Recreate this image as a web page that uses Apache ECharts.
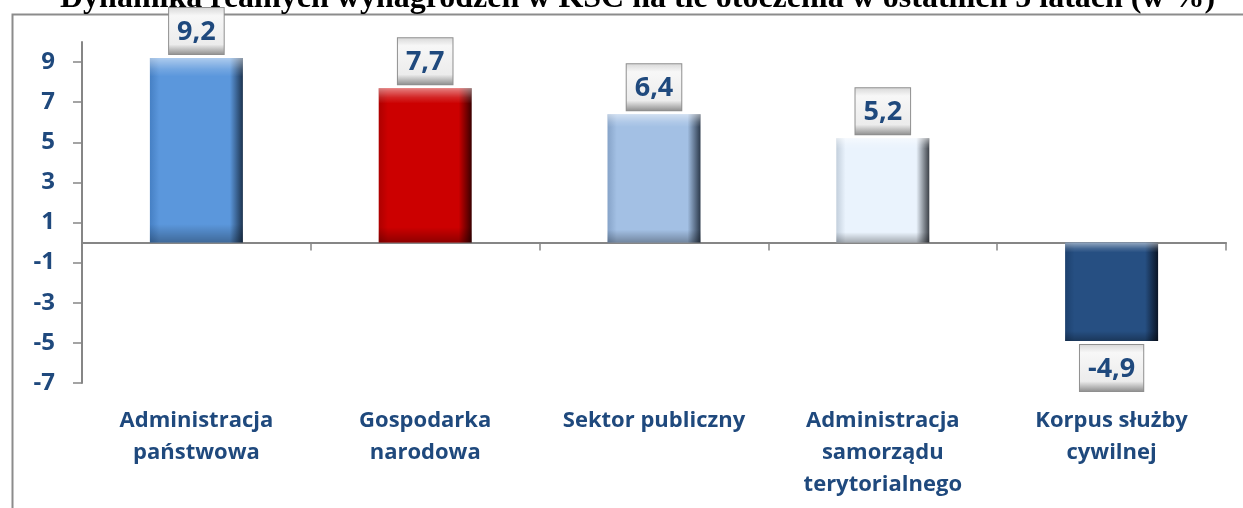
<!DOCTYPE html>
<html>
<head>
<meta charset="utf-8">
<script src="https://cdn.jsdelivr.net/npm/echarts@6/dist/echarts.min.js"></script>
<style>
  html, body { margin: 0; padding: 0; background: #fff; }
  #chart { width: 1243px; height: 508px; }
</style>
</head>
<body>
<div id="chart"></div>
<script>
  const categories = [
    'Administracja\npaństwowa',
    'Gospodarka\nnarodowa',
    'Sektor publiczny',
    'Administracja\nsamorządu\nterytorialnego',
    'Korpus służby\ncywilnej'
  ]
  const values = [9.2, 7.7, 6.4, 5.2, -4.9]
  const yTicks = [-7, -5, -3, -1, 1, 3, 5, 7, 9]
  const yMin = -7
  const yMax = 10

  // left edge, face, right edge of every bar
  const palette = [
    ['#4680c4', '#5b97dc', '#1d3450'],
    ['#ad0000', '#cc0000', '#3a0000'],
    ['#86a3c8', '#a3c0e4', '#2c3a4c'],
    ['#c3cfdc', '#eaf3fd', '#3c4148'],
    ['#1d416e', '#264f82', '#0b1526']
  ]

  const textBlue = '#1f497d'
  const axisGray = '#868686'

  function bevel(c) {
    return {
      type: 'linear', x: 0, y: 0, x2: 1, y2: 0,
      colorStops: [
        { offset: 0, color: c[0] },
        { offset: 0.1, color: c[1] },
        { offset: 0.86, color: c[1] },
        { offset: 1, color: c[2] }
      ]
    }
  }

  const fmt = v => v.toFixed(1).replace('.', ',')

  const chart = echarts.init(document.getElementById('chart'))

  chart.setOption({
    backgroundColor: '#fff',
    animation: false,
    title: {
      text: 'Dynamika realnych wynagrodzeń w KSC na tle otoczenia w ostatnich 5 latach (w %)',
      left: 55,
      top: -22,
      textStyle: {
        fontFamily: 'Liberation Serif',
        fontWeight: 'bold',
        fontSize: 32,
        color: '#000'
      }
    },
    graphic: [{
      type: 'rect',
      left: 10,
      top: 12,
      z: -10,
      shape: { width: 1300, height: 600 },
      style: { fill: 'none', stroke: '#8c8c8c', lineWidth: 2 }
    }],
    grid: {
      left: 82,
      right: 17,
      top: 42,
      bottom: 125
    },
    xAxis: [
      {
        type: 'category',
        data: categories,
        position: 'bottom',
        axisLine: { onZero: true, lineStyle: { color: axisGray, width: 2 } },
        axisTick: { show: true, length: 8, lineStyle: { color: axisGray, width: 1.5 } },
        axisLabel: { show: false },
        splitLine: { show: false }
      },
      {
        type: 'category',
        data: categories,
        position: 'bottom',
        axisLine: { show: false, onZero: false },
        axisTick: { show: false },
        axisLabel: {
          interval: 0,
          margin: 22,
          color: textBlue,
          fontFamily: 'Open Sans',
          fontWeight: 'bold',
          fontSize: 22,
          lineHeight: 32
        },
        splitLine: { show: false }
      }
    ],
    yAxis: {
      type: 'value',
      min: yMin,
      max: yMax,
      axisLine: { show: true, lineStyle: { color: axisGray, width: 2 } },
      axisTick: {
        show: true,
        length: 9,
        customValues: yTicks,
        lineStyle: { color: axisGray, width: 1.5 }
      },
      axisLabel: {
        customValues: yTicks,
        margin: 27,
        color: textBlue,
        fontFamily: 'Open Sans',
        fontWeight: 'bold',
        fontSize: 24
      },
      splitLine: { show: false }
    },
    series: [
      {
        type: 'bar',
        xAxisIndex: 0,
        barWidth: 93,
        barGap: '-100%',
        data: values.map((v, i) => ({
          value: v,
          itemStyle: { color: bevel(palette[i]) },
          label: { position: v < 0 ? 'bottom' : 'top' }
        })),
        label: {
          show: true,
          distance: 4,
          formatter: p => fmt(p.value),
          color: textBlue,
          fontFamily: 'Open Sans',
          fontWeight: 'bold',
          fontSize: 27,
          lineHeight: 30,
          padding: [9, 8, 7, 8],
          borderColor: '#8f8f8f',
          borderWidth: 1,
          backgroundColor: {
            type: 'linear', x: 0, y: 0, x2: 0, y2: 1,
            colorStops: [
              { offset: 0, color: '#d6d6d6' },
              { offset: 0.18, color: '#f7f7f7' },
              { offset: 0.78, color: '#ececec' },
              { offset: 1, color: '#8c8c8c' }
            ]
          }
        },
        z: 2
      },
      {
        // top highlight and bottom shade of the bevel
        type: 'bar',
        xAxisIndex: 0,
        barWidth: 93,
        barGap: '-100%',
        silent: true,
        data: values,
        itemStyle: {
          color: {
            type: 'linear', x: 0, y: 0, x2: 0, y2: 1,
            colorStops: [
              { offset: 0, color: 'rgba(255,255,255,0.5)' },
              { offset: 0.06, color: 'rgba(255,255,255,0.15)' },
              { offset: 0.1, color: 'rgba(255,255,255,0)' },
              { offset: 0.9, color: 'rgba(0,0,0,0)' },
              { offset: 0.95, color: 'rgba(0,0,0,0.15)' },
              { offset: 1, color: 'rgba(0,0,0,0.3)' }
            ]
          }
        },
        z: 3
      }
    ]
  })
</script>
</body>
</html>
